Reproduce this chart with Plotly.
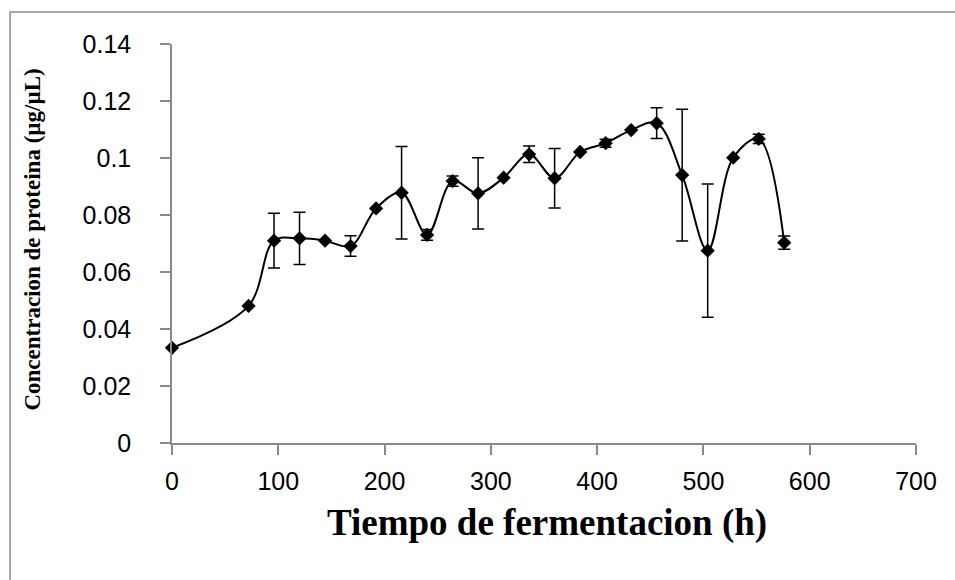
import plotly.graph_objects as go

# Data
tiempo_h = [0, 72, 96, 120, 144, 168, 192, 216, 240, 264, 288, 312,
            336, 360, 384, 408, 432, 456, 480, 504, 528, 552, 576]
proteina = [0.0334, 0.0481, 0.0710, 0.0718, 0.0710, 0.0691, 0.0823, 0.0878,
            0.0730, 0.0919, 0.0876, 0.0931, 0.1013, 0.0929, 0.1021, 0.1052,
            0.1098, 0.1122, 0.0940, 0.0675, 0.1001, 0.1067, 0.0703]
error = [0.0, 0.0, 0.0096, 0.0092, 0.0, 0.0036, 0.0, 0.0162,
         0.0019, 0.0018, 0.0125, 0.0, 0.0029, 0.0104, 0.0, 0.0014,
         0.0, 0.0054, 0.0231, 0.0234, 0.0, 0.0016, 0.0023]

x_ticks = [0, 100, 200, 300, 400, 500, 600, 700]
y_ticks = [0, 0.02, 0.04, 0.06, 0.08, 0.1, 0.12, 0.14]
y_tick_text = ["0", "0.02", "0.04", "0.06", "0.08", "0.1", "0.12", "0.14"]

x_title = "Tiempo de fermentacion (h)"
y_title = "Concentracion de proteina (µg/µL)"

AXIS_GRAY = "#898989"
TICK_FONT = dict(family="Liberation Sans, Arial, sans-serif", size=25, color="#000000")
TITLE_FONT_FAMILY = "Liberation Serif, Times New Roman, serif"

L, R, T, B = 171.5, 39, 44, 137
W, H = 955, 580
PW, PH = W - L - R, H - T - B

fig = go.Figure()
fig.add_trace(go.Scatter(
    x=tiempo_h, y=proteina,
    mode="lines+markers",
    line=dict(color="#000000", width=2, shape="spline", smoothing=1.0),
    marker=dict(symbol="diamond", size=11, color="#000000"),
    error_y=dict(type="data", array=error, visible=True,
                 color="#000000", thickness=1.5, width=6),
    showlegend=False,
    cliponaxis=False,
))

fig.update_layout(
    width=W, height=H,
    margin=dict(l=L, r=R, t=T, b=B),
    paper_bgcolor="#ffffff", plot_bgcolor="#ffffff",
    xaxis=dict(
        range=[0, 700], tickvals=x_ticks, ticktext=[str(v) for v in x_ticks],
        showgrid=False, zeroline=False,
        showline=True, linecolor=AXIS_GRAY, linewidth=1.5,
        ticks="outside", ticklen=10, tickwidth=1.5, tickcolor=AXIS_GRAY,
        tickfont=TICK_FONT, ticklabelstandoff=5,
        fixedrange=True,
    ),
    yaxis=dict(
        range=[0, 0.14], tickvals=y_ticks, ticktext=y_tick_text,
        showgrid=False, zeroline=False,
        showline=True, linecolor=AXIS_GRAY, linewidth=1.5,
        ticks="outside", ticklen=10, tickwidth=1.5, tickcolor=AXIS_GRAY,
        tickfont=TICK_FONT, ticklabelstandoff=24,
        fixedrange=True,
    ),
    annotations=[
        dict(text="<b>" + x_title + "</b>", xref="paper", yref="paper",
             x=(547 - L) / PW, y=(H - B - 523) / PH, xanchor="center", yanchor="middle",
             showarrow=False,
             font=dict(family=TITLE_FONT_FAMILY, size=37, color="#000000")),
        dict(text="<b>" + y_title + "</b>", xref="paper", yref="paper",
             x=(31 - L) / PW, y=(H - B - 240) / PH, xanchor="center", yanchor="middle",
             textangle=-90, showarrow=False,
             font=dict(family=TITLE_FONT_FAMILY, size=23, color="#000000")),
    ],
    shapes=[dict(type="rect", xref="paper", yref="paper",
                 x0=(9.5 - L) / PW, x1=(975 - L) / PW,
                 y0=(H - B - 600) / PH, y1=(H - B - 12) / PH,
                 line=dict(color="#8c8c8c", width=1.5), fillcolor="rgba(0,0,0,0)",
                 layer="below")],
)

fig.write_html("out.html", config={"displayModeBar": False},
               post_script="document.body.style.margin='0px';")
